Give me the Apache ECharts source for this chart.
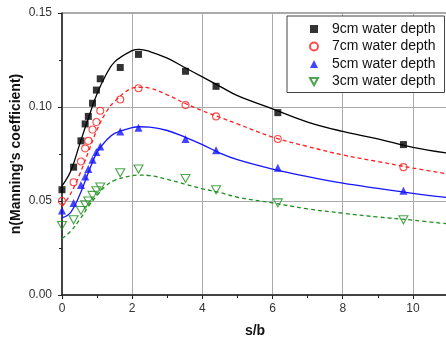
<!DOCTYPE html>
<html>
<head>
<meta charset="utf-8">
<script src="https://cdn.jsdelivr.net/npm/echarts@6/dist/echarts.min.js"></script>
<style>
  html, body { margin: 0; padding: 0; background: #fff; }
  #chart { width: 446px; height: 343px; }
</style>
</head>
<body>
<div id="chart"></div>
<script>
// measured points (s/b positions shared by all depths)
const sbPoints = [0, 0.33, 0.54, 0.66, 0.75, 0.87, 0.98, 1.09, 1.66, 2.18, 3.52, 4.39, 6.15, 9.73];
const depth9 = [0.056, 0.068, 0.082, 0.091, 0.095, 0.102, 0.109, 0.115, 0.121, 0.128, 0.119, 0.111, 0.097, 0.080];
const depth7 = [0.050, 0.060, 0.071, 0.078, 0.082, 0.088, 0.092, 0.098, 0.104, 0.110, 0.101, 0.095, 0.083, 0.068];
const depth5 = [0.045, 0.049, 0.0585, 0.063, 0.067, 0.072, 0.076, 0.079, 0.087, 0.089, 0.083, 0.077, 0.0677, 0.0555];
const depth3 = [0.037, 0.040, 0.045, 0.048, 0.050, 0.053, 0.0555, 0.0575, 0.065, 0.067, 0.062, 0.056, 0.049, 0.040];

// fitted curves
const fitX = [0, 0.25, 0.5, 0.75, 1, 1.25, 1.5, 2, 2.2, 2.5, 3, 3.5, 4, 4.5, 5, 6, 7, 8, 9, 10, 11];
const fit9 = [0.058, 0.066, 0.080, 0.094, 0.107, 0.117, 0.124, 0.130, 0.1307, 0.1295, 0.126, 0.121, 0.116, 0.111, 0.106, 0.099, 0.092, 0.087, 0.083, 0.0785, 0.0754];
const fit7 = [0.047, 0.054, 0.064, 0.076, 0.088, 0.097, 0.103, 0.110, 0.1105, 0.110, 0.1065, 0.102, 0.098, 0.0945, 0.091, 0.084, 0.079, 0.0745, 0.071, 0.0675, 0.0644];
const fit5 = [0.041, 0.044, 0.053, 0.065, 0.076, 0.082, 0.086, 0.089, 0.0895, 0.0893, 0.0875, 0.084, 0.080, 0.0755, 0.072, 0.067, 0.063, 0.0595, 0.0567, 0.0541, 0.0518];
const fit3 = [0.030, 0.034, 0.040, 0.047, 0.053, 0.058, 0.061, 0.0635, 0.0638, 0.0635, 0.0615, 0.059, 0.0565, 0.0545, 0.052, 0.049, 0.0458, 0.0435, 0.0415, 0.0398, 0.0378];

const names = ['9cm water depth', '7cm water depth', '5cm water depth', '3cm water depth'];
const downTri = 'path://M0,0 L10,0 L5,9 Z';
const FONT = 'Liberation Sans, Arial, sans-serif';

const pairs = (xs, ys) => xs.map((x, i) => [x, ys[i]]);

const chart = echarts.init(document.getElementById('chart'));

const option = {
  animation: false,
  grid: {
    left: 62, right: -2, top: 13, bottom: 48,
    outerBoundsMode: 'none',
    show: true, borderColor: '#555', borderWidth: 1
  },
  legend: {
    data: names,
    orient: 'vertical',
    left: 287, top: 16,
    padding: [6, 9, 4, 22],
    itemWidth: 8, itemHeight: 8, itemGap: 3.5,
    borderColor: '#444', borderWidth: 1,
    backgroundColor: '#fff',
    textStyle: { fontFamily: FONT, fontSize: 14, color: '#111', padding: [0, 0, 0, 9] }
  },
  xAxis: {
    type: 'value',
    min: 0, max: 11, interval: 2,
    name: 's/b', nameLocation: 'middle', nameGap: 29,
    nameTextStyle: { fontFamily: FONT, fontSize: 14, fontWeight: 'bold', color: '#111' },
    axisLine: { lineStyle: { color: '#222', width: 1.5 } },
    axisTick: { length: 4, lineStyle: { color: '#222' } },
    minorTick: { show: true, splitNumber: 2, length: 3, lineStyle: { color: '#222' } },
    splitLine: { show: true, lineStyle: { color: '#aaa', width: 1 } },
    axisLabel: { showMaxLabel: false, margin: 8, fontFamily: FONT, fontSize: 12, color: '#333' }
  },
  yAxis: {
    type: 'value',
    min: 0, max: 0.15, interval: 0.05,
    name: "n(Manning's coefficient)", nameLocation: 'middle', nameGap: 39,
    nameMoveOverlap: false,
    nameTextStyle: { fontFamily: FONT, fontSize: 14, fontWeight: 'bold', color: '#111' },
    axisLine: { show: true, lineStyle: { color: '#222', width: 1.5 } },
    axisTick: { show: true, length: 4, lineStyle: { color: '#222' } },
    minorTick: { show: true, splitNumber: 2, length: 3, lineStyle: { color: '#222' } },
    splitLine: { show: true, lineStyle: { color: '#aaa', width: 1 } },
    axisLabel: {
      margin: 10, fontFamily: FONT, fontSize: 12, color: '#333',
      formatter: (v) => v.toFixed(2)
    }
  },
  series: [
    { name: 'fit9', type: 'line', data: pairs(fitX, fit9), smooth: 0.4, showSymbol: false, silent: true,
      lineStyle: { color: '#000', width: 1.3 } },
    { name: 'fit7', type: 'line', data: pairs(fitX, fit7), smooth: 0.4, showSymbol: false, silent: true,
      lineStyle: { color: '#ff2020', width: 1.3, type: [4, 3] } },
    { name: 'fit5', type: 'line', data: pairs(fitX, fit5), smooth: 0.4, showSymbol: false, silent: true,
      lineStyle: { color: '#1515ff', width: 1.3 } },
    { name: 'fit3', type: 'line', data: pairs(fitX, fit3), smooth: 0.4, showSymbol: false, silent: true,
      lineStyle: { color: '#1f8f1f', width: 1.3, type: [4, 3] } },
    { name: names[0], type: 'scatter', data: pairs(sbPoints, depth9), symbol: 'rect', symbolSize: 7,
      itemStyle: { color: '#000' } },
    { name: names[1], type: 'scatter', data: pairs(sbPoints, depth7), symbol: 'circle', symbolSize: 7,
      itemStyle: { color: 'rgba(255,255,255,0)', borderColor: '#ff2020', borderWidth: 1.1 } },
    { name: names[2], type: 'scatter', data: pairs(sbPoints, depth5), symbol: 'triangle', symbolSize: 8,
      itemStyle: { color: '#1515ff' } },
    { name: names[3], type: 'scatter', data: pairs(sbPoints, depth3), symbol: downTri, symbolSize: [9, 8],
      itemStyle: { color: 'rgba(255,255,255,0)', borderColor: '#1f8f1f', borderWidth: 1.1 } }
  ]
};

chart.setOption(option);
</script>
</body>
</html>
